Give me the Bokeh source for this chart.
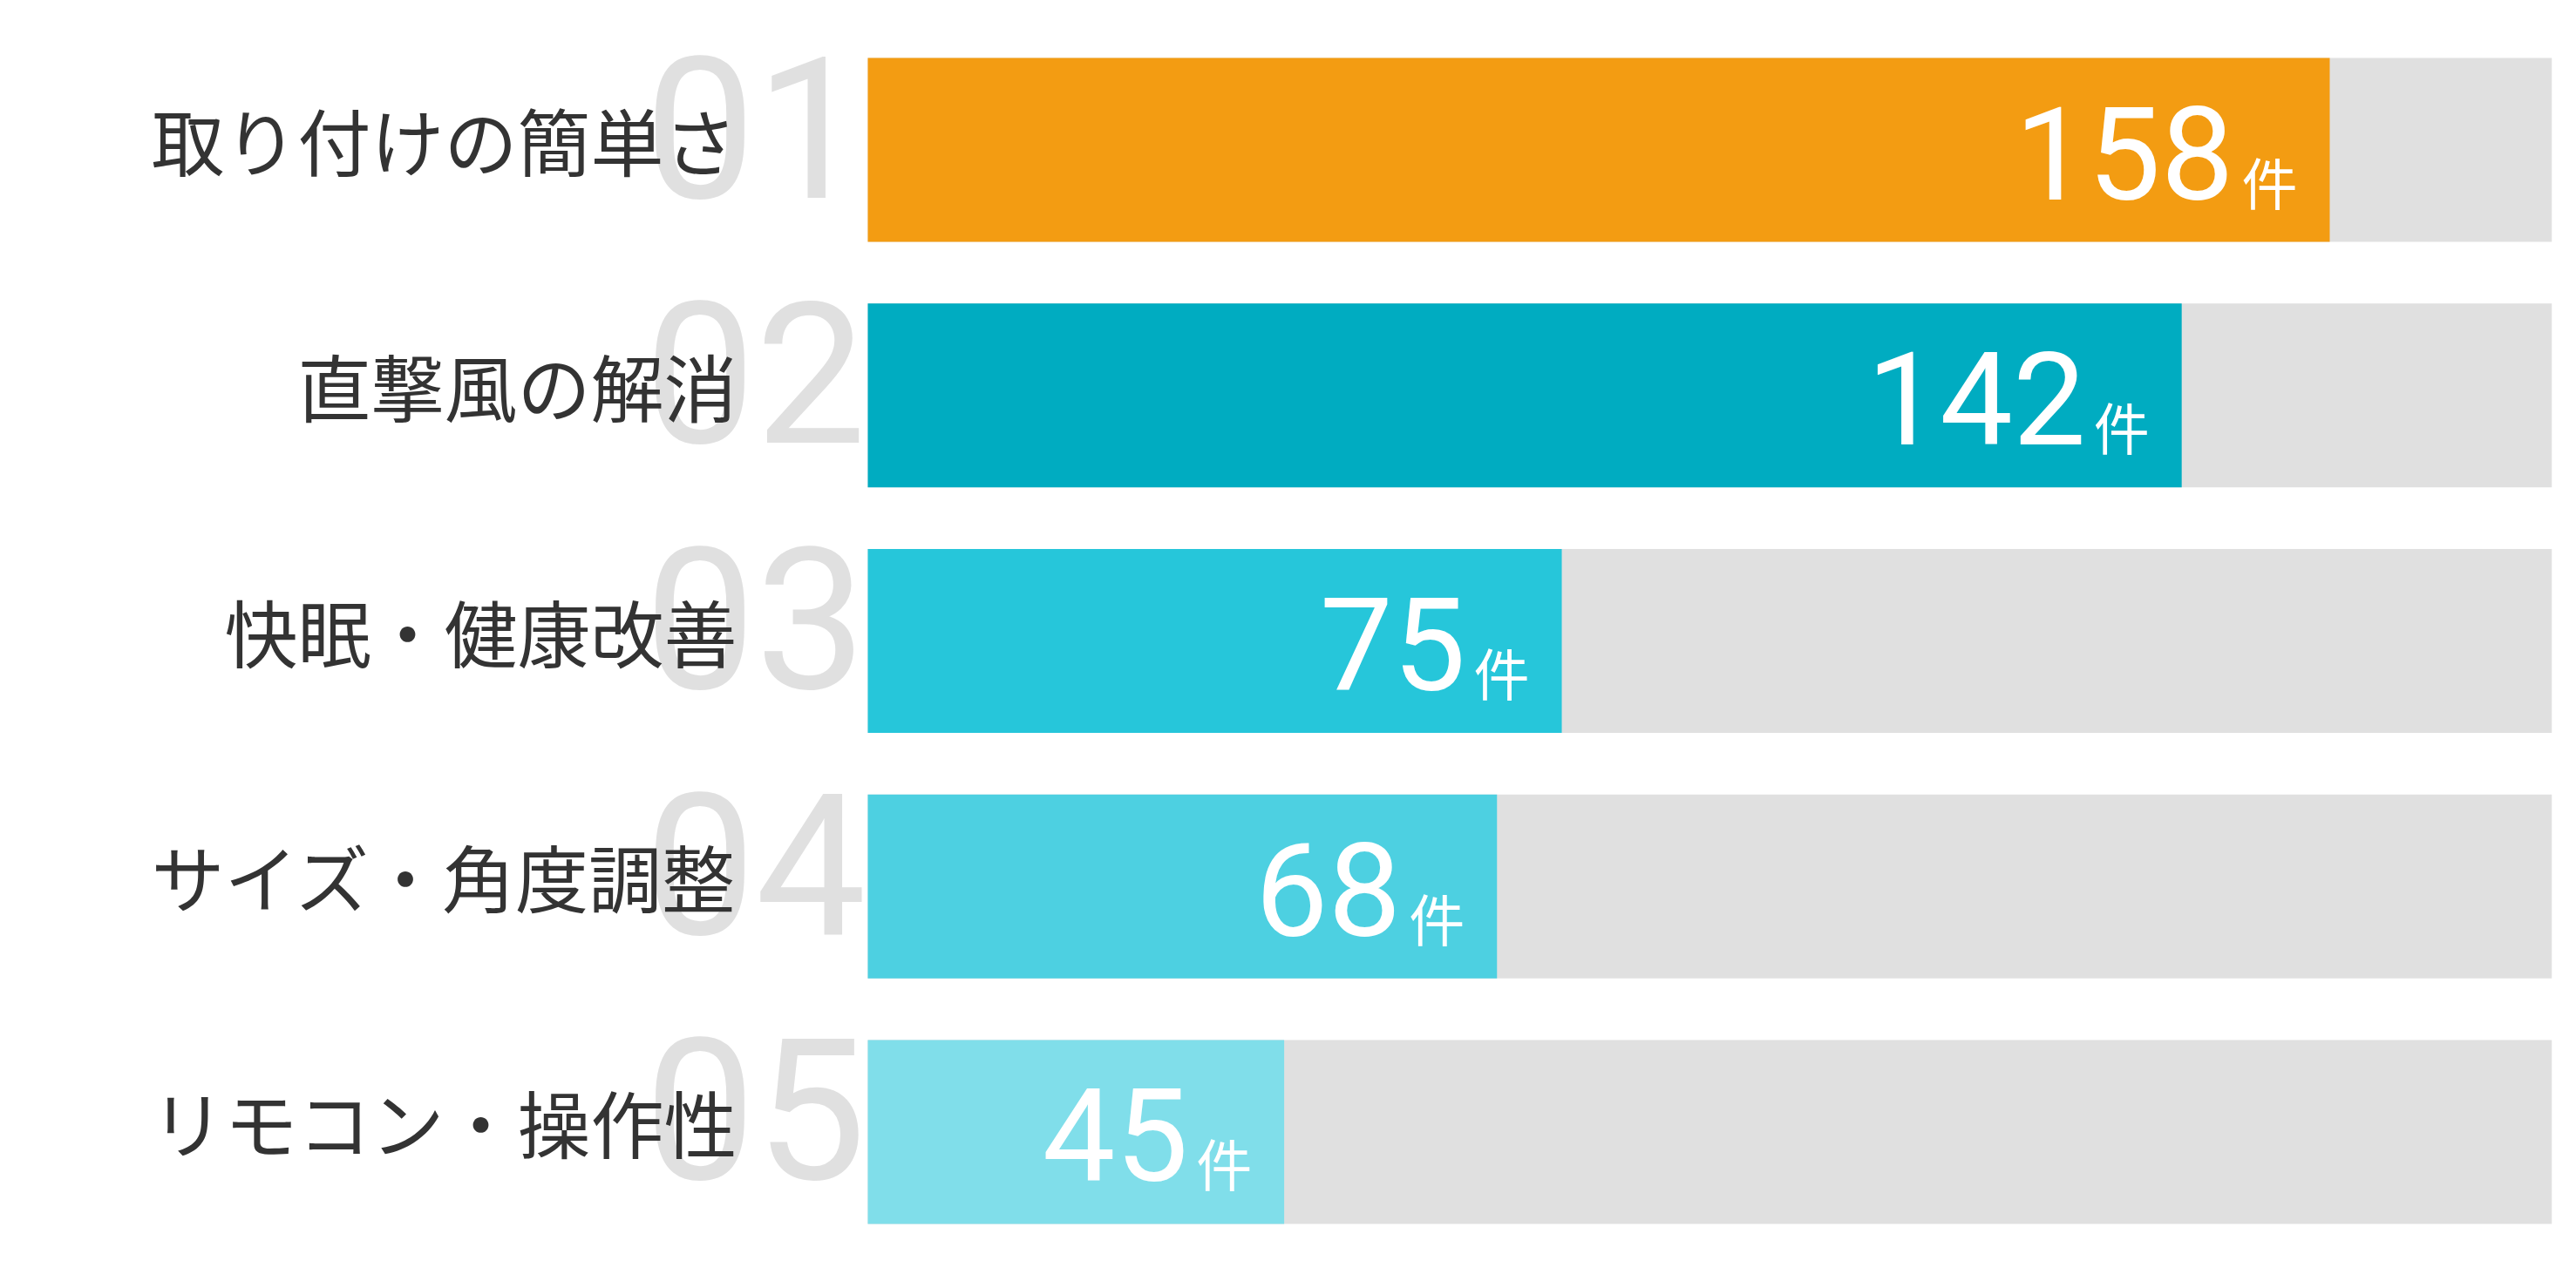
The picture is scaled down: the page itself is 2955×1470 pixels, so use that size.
from bokeh.plotting import figure
from bokeh.models import Range1d, ColumnDataSource
from bokeh.embed import file_html
from bokeh.resources import INLINE
from bokeh.core.properties import value

# ---- data ----
categories = ["取り付けの簡単さ", "直撃風の解消", "快眠・健康改善", "サイズ・角度調整", "リモコン・操作性"]
ranks = ["01", "02", "03", "04", "05"]
counts = [158, 142, 75, 68, 45]
unit = "件"
colors = ["#F39C12", "#00ACC1", "#26C6DA", "#4DD0E1", "#80DEEA"]
track_max = 182

idx = list(range(len(categories)))

W, H = 2955, 1470
px_per_unit = 10.614
x0 = -995 / px_per_unit
x_range = Range1d(x0, x0 + W / px_per_unit)
band_px = 281.8
pad = 0.609
y_range = Range1d(len(categories) - 1 + pad, -pad)

p = figure(width=W, height=H, x_range=x_range, y_range=y_range,
           output_backend="svg", toolbar_location=None, min_border=0,
           background_fill_color="white", border_fill_color="white")
p.axis.visible = False
p.grid.visible = False
p.outline_line_color = None

src = ColumnDataSource(dict(
    y=idx, cat=categories, rank=ranks, count=counts,
    label=[str(c) for c in counts], unit=[unit] * len(counts),
    color=colors, track=[track_max] * len(counts),
    y_rank=[i - 26.5 / band_px for i in idx],
    y_cat=[i - 12.5 / band_px for i in idx],
    y_num=[i + 3.5 / band_px for i in idx],
    y_unit=[i + 34.5 / band_px for i in idx],
))

bar_h = 211 / band_px
p.hbar(y="y", left=0, right="track", height=bar_h, source=src,
       fill_color="#E0E0E0", line_color=None)
p.hbar(y="y", left=0, right="count", height=bar_h, source=src,
       fill_color="color", line_color=None)

p.text(x=0, y="y_rank", text="rank", source=src, x_offset=-2,
       text_align="right", text_baseline="alphabetic",
       text_font=value("Roboto"), text_font_size="226px", text_color="#E0E0E0")

p.text(x=0, y="y_cat", text="cat", source=src, x_offset=-150,
       text_align="right", text_baseline="alphabetic",
       text_font=value("Noto Sans CJK JP"), text_font_size="84px", text_color="#333333")

p.text(x="count", y="y_num", text="label", source=src, x_offset=-110,
       text_align="right", text_baseline="alphabetic",
       text_font=value("Roboto"), text_font_size="149px", text_color="white")

p.text(x="count", y="y_unit", text="unit", source=src, x_offset=-37,
       text_align="right", text_baseline="alphabetic",
       text_font=value("Noto Sans CJK JP"), text_font_size="64px", text_color="white")

open("out.html", "w").write(file_html(p, INLINE))
